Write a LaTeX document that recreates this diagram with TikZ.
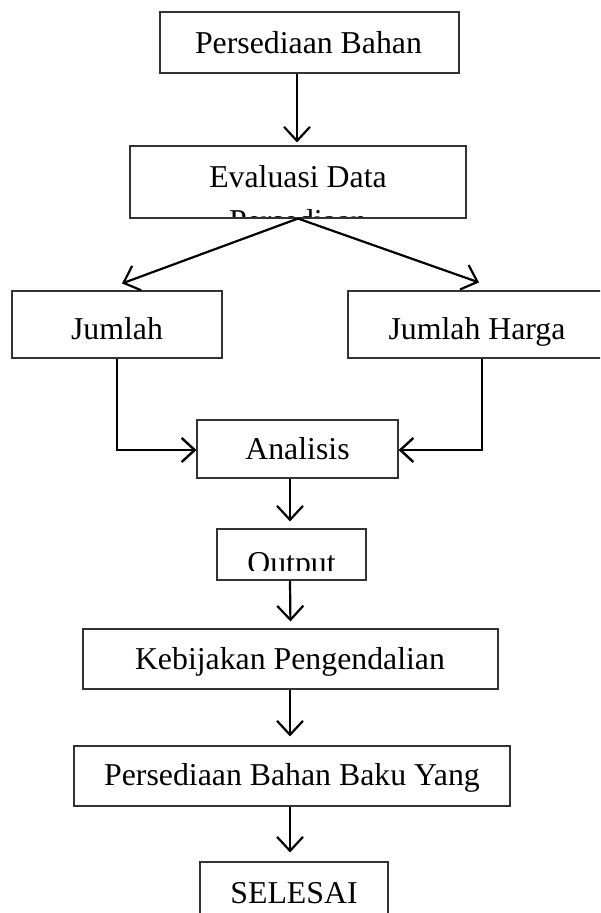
\documentclass[tikz,border=0pt]{standalone}
\usepackage{fontspec}
\setmainfont{Liberation Serif}
\usetikzlibrary{arrows.meta}
\begin{document}
\begin{tikzpicture}[x=1pt,y=-1pt,
  box/.style={draw=black!80,line width=1.1pt,rectangle,inner sep=0pt},
  lbl/.style={inner sep=0pt,anchor=base,font=\fontsize{31.8}{38}\selectfont},
  arr/.style={line width=2.2pt,-{Straight Barb[length=14pt,width=26pt,line width=2.2pt]}},
  elb/.style={line width=1.8pt,-{Straight Barb[length=13pt,width=24pt,line width=2.4pt]}},
]
\useasboundingbox (0,0) rectangle (600,913);
\clip (0,0) rectangle (600,913);

% boxes
\node[box,minimum width=299pt,minimum height=61pt] (b1) at (309.5,42.5) {};
\node[box,minimum width=336pt,minimum height=72pt] (b2) at (298,182) {};
\node[box,minimum width=210pt,minimum height=67pt] (b3) at (117,324.5) {};
\node[box,minimum width=258pt,minimum height=67pt] (b4) at (477,324.5) {};
\node[box,minimum width=201pt,minimum height=58pt] (b5) at (297.5,449) {};
\node[box,minimum width=149pt,minimum height=51pt] (b6) at (291.5,554.5) {};
\node[box,minimum width=415pt,minimum height=60pt] (b7) at (290.5,659) {};
\node[box,minimum width=436pt,minimum height=60pt] (b8) at (292,776) {};
\node[box,minimum width=188pt,minimum height=63pt] (b9) at (294,893.5) {};

% texts
\node[lbl] (t1) at (308.5,53) {Persediaan Bahan};
\node[lbl] (t2) at (298,187) {Evaluasi Data};
\begin{scope}
  \clip (b2.north west) rectangle ([yshift=2pt]b2.south east);
  \node[lbl] (t2b) at (298,231) {Persediaan};
\end{scope}
\node[lbl] (t3) at (117,339) {Jumlah};
\node[lbl] (t4) at (477,339) {Jumlah Harga};
\node[lbl] (t5) at (297.5,459) {Analisis};
\begin{scope}
  \clip (b6.north west) rectangle ([yshift=10.5pt]b6.south east);
  \node[lbl] (t6) at (291.5,573) {Output};
\end{scope}
\node[lbl] (t7) at (290,669) {Kebijakan Pengendalian};
\node[lbl] (t8) at (292,785.5) {Persediaan Bahan Baku Yang};
\node[lbl] (t9) at (294,903) {SELESAI};

% connectors
\draw[arr,shorten >=3pt] ([xshift=-12.5pt]b1.south) -- ([xshift=-1pt]b2.north);
\draw[arr] (b2.south) -- ([xshift=5pt,yshift=7pt]b3.north);
\draw[arr] (b2.south) -- ([xshift=2pt,yshift=8pt]b4.north);
\draw[elb] (b3.south) |- ([yshift=-1pt]b5.west);
\draw[elb] ([xshift=5pt]b4.south) |- ([yshift=-1pt]b5.east);
\draw[arr,shorten >=7pt] ([xshift=-7.5pt]b5.south) -- ([xshift=-1.5pt]b6.north);
\draw[arr,shorten >=7pt] ([xshift=-1.5pt]b6.south) -- (b7.north);
\draw[arr,shorten >=9pt] ([xshift=-0.5pt]b7.south) -- ([xshift=-2pt]b8.north);
\draw[arr,shorten >=9pt] ([xshift=-2pt]b8.south) -- ([xshift=-4pt]b9.north);
\end{tikzpicture}
\end{document}
